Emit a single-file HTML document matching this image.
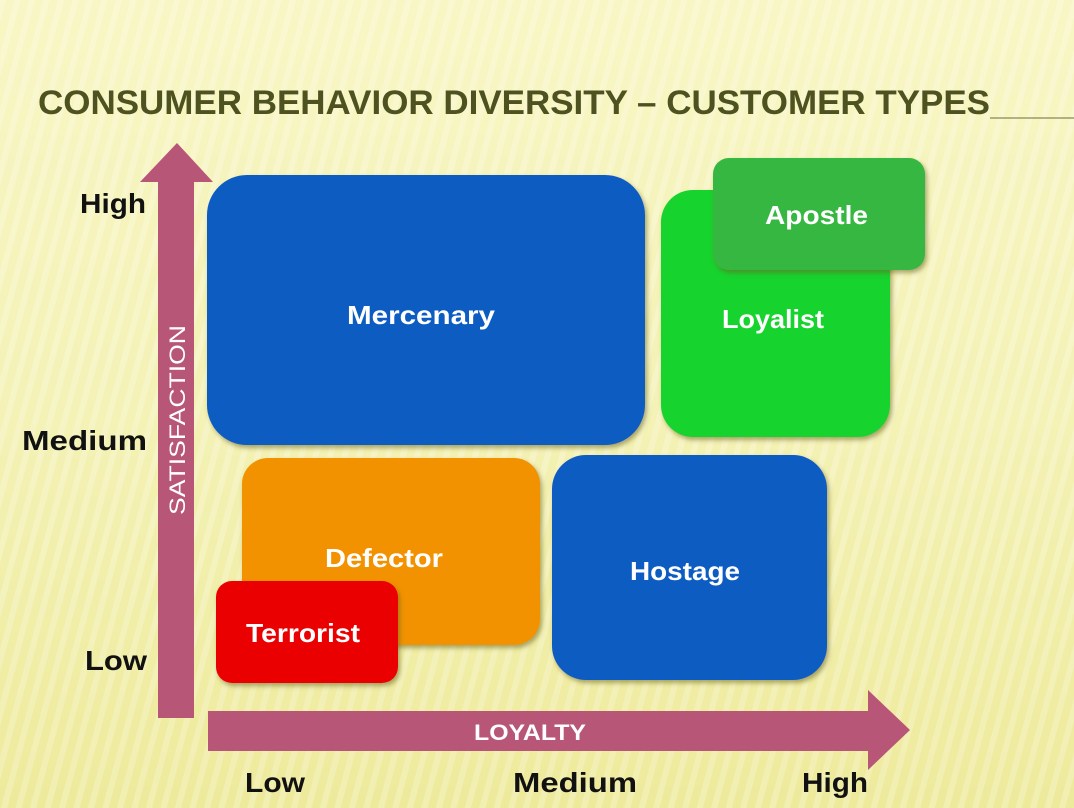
<!DOCTYPE html>
<html><head><meta charset="utf-8"><style>
html,body{margin:0;padding:0;}
body{width:1074px;height:808px;overflow:hidden;background:#f3f1b4;}
svg{display:block;}
text{font-family:"Liberation Sans",sans-serif;font-weight:bold;}
</style></head><body>
<svg width="1074" height="808" viewBox="0 0 1074 808" xmlns="http://www.w3.org/2000/svg">
<defs>
<linearGradient id="bg" x1="0" y1="0" x2="0" y2="1">
<stop offset="0" stop-color="#f8f6c4"/><stop offset="0.5" stop-color="#f4f2b6"/><stop offset="1" stop-color="#eeea9c"/>
</linearGradient>
<pattern id="st" width="14" height="14" patternUnits="userSpaceOnUse" patternTransform="rotate(15)">
<rect width="6" height="14" fill="#ffffff" opacity="0.22"/>
</pattern>
<filter id="sh" x="-10%" y="-10%" width="125%" height="125%"><feDropShadow dx="2" dy="3" stdDeviation="2.5" flood-color="#6a6420" flood-opacity="0.55"/></filter>
</defs>
<rect width="1074" height="808" fill="url(#bg)"/>
<rect width="1074" height="808" fill="url(#st)"/>
<line x1="990" y1="118" x2="1074" y2="118" stroke="#9a9a6a" stroke-width="1.5"/>
<text x="38" y="114" font-size="34" fill="#4d5220" textLength="952" lengthAdjust="spacingAndGlyphs">CONSUMER BEHAVIOR DIVERSITY – CUSTOMER TYPES</text>
<!-- vertical arrow -->
<polygon points="177,143 213,182 194,182 194,718 158,718 158,182 140,182" fill="#b85678"/>
<text transform="translate(185,420) rotate(-90)" text-anchor="middle" font-size="22" fill="#fff" textLength="190" lengthAdjust="spacingAndGlyphs" style="font-weight:normal">SATISFACTION</text>
<!-- horizontal arrow -->
<polygon points="208,711 868,711 868,690 910,730 868,770 868,751 208,751" fill="#b85678"/>
<text x="530" y="740" text-anchor="middle" font-size="22" fill="#fff" textLength="112" lengthAdjust="spacingAndGlyphs">LOYALTY</text>
<!-- boxes -->
<rect x="207" y="175" width="438" height="270" rx="40" fill="#0a5cc2" filter="url(#sh)"/>
<text x="347" y="324" font-size="26" fill="#fff" textLength="148" lengthAdjust="spacingAndGlyphs">Mercenary</text>
<rect x="661" y="190" width="229" height="247" rx="32" fill="#19d32f" filter="url(#sh)"/>
<text x="722" y="328" font-size="26" fill="#fff" textLength="102" lengthAdjust="spacingAndGlyphs">Loyalist</text>
<rect x="713" y="158" width="212" height="112" rx="16" fill="#36b742" filter="url(#sh)"/>
<text x="765" y="224" font-size="26" fill="#fff" textLength="103" lengthAdjust="spacingAndGlyphs">Apostle</text>
<rect x="242" y="458" width="298" height="187" rx="26" fill="#f39206" filter="url(#sh)"/>
<text x="325" y="567" font-size="26" fill="#fff" textLength="118" lengthAdjust="spacingAndGlyphs">Defector</text>
<rect x="552" y="455" width="275" height="225" rx="34" fill="#0a5cc2" filter="url(#sh)"/>
<text x="630" y="580" font-size="26" fill="#fff" textLength="110" lengthAdjust="spacingAndGlyphs">Hostage</text>
<rect x="216" y="581" width="182" height="102" rx="16" fill="#ea0000" filter="url(#sh)"/>
<text x="246" y="642" font-size="26" fill="#fff" textLength="114" lengthAdjust="spacingAndGlyphs">Terrorist</text>
<!-- axis labels -->
<g font-size="28" fill="#111">
<text x="80" y="213" textLength="66" lengthAdjust="spacingAndGlyphs">High</text>
<text x="22" y="450" textLength="125" lengthAdjust="spacingAndGlyphs">Medium</text>
<text x="85" y="670" textLength="62" lengthAdjust="spacingAndGlyphs">Low</text>
<text x="245" y="792" textLength="60" lengthAdjust="spacingAndGlyphs">Low</text>
<text x="513" y="792" textLength="124" lengthAdjust="spacingAndGlyphs">Medium</text>
<text x="802" y="792" textLength="66" lengthAdjust="spacingAndGlyphs">High</text>
</g>
</svg>
</body></html>
